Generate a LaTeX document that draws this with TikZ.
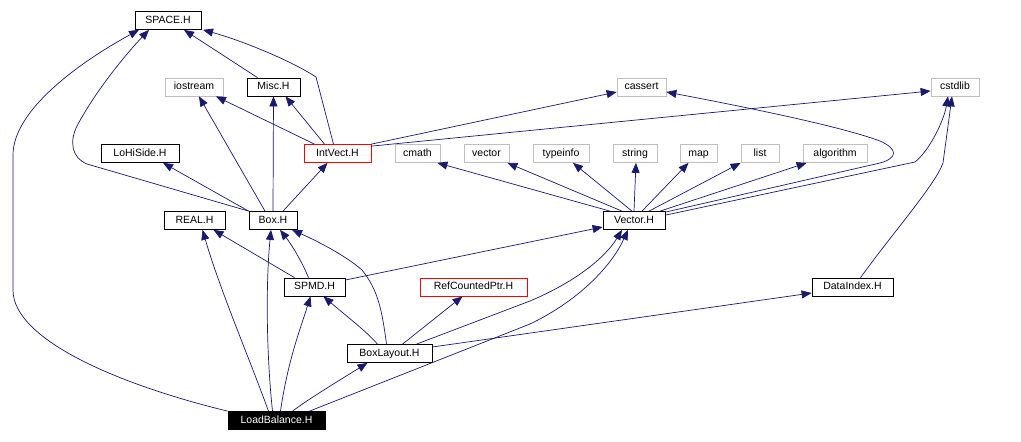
\documentclass[tikz,border=0pt]{standalone}
\usepackage{fontspec}
\setmainfont{Liberation Sans}
\usetikzlibrary{arrows.meta}

\definecolor{edgeblue}{HTML}{191970}
\definecolor{sysgray}{HTML}{BFBFBF}

\begin{document}
\begin{tikzpicture}[
    x=1pt, y=-1pt,
    font=\fontsize{10.5}{12}\selectfont,
    hdr/.style={draw, line width=0.75pt, minimum height=18pt, inner sep=0pt, fill=white,
        text height=7.6pt, text depth=2pt},
    sys/.style={hdr, draw=sysgray},
    trunc/.style={hdr, draw=red},
    root/.style={hdr, fill=black, text=white},
    dep/.style={-{Triangle[length=10pt, width=8pt]}, draw=edgeblue, line width=0.7pt}
]
\path[use as bounding box, fill=white] (0,0) rectangle (1021,442);

% Project headers
\node[hdr, minimum width=66pt] (space) at (168,20.5) {SPACE.H};
\node[hdr, minimum width=53pt] (misc) at (273.5,87) {Misc.H};
\node[hdr, minimum width=78pt] (lohiside) at (140,153.5) {LoHiSide.H};
\node[trunc, minimum width=67pt] (intvect) at (337.5,153.5) {IntVect.H};
\node[hdr, minimum width=61pt] (real) at (194.5,220.5) {REAL.H};
\node[hdr, minimum width=48pt] (box) at (273,220.5) {Box.H};
\node[hdr, minimum width=62pt] (vectorh) at (634,220.5) {Vector.H};
\node[hdr, minimum width=61pt] (spmd) at (314.5,287) {SPMD.H};
\node[trunc, minimum width=107pt] (refptr) at (473.5,287) {RefCountedPtr.H};
\node[hdr, minimum width=81pt] (dataindex) at (852.5,287) {DataIndex.H};
\node[hdr, minimum width=85pt] (boxlayout) at (389.5,353.5) {BoxLayout.H};
\node[root, minimum width=97pt] (loadbal) at (276.5,420.5) {LoadBalance.H};

% System headers
\node[sys, minimum width=58pt] (iostream) at (194,87) {iostream};
\node[sys, minimum width=49pt] (cassert) at (641.5,87) {cassert};
\node[sys, minimum width=48pt] (cstdlib) at (955,87) {cstdlib};
\node[sys, minimum width=45pt] (cmath) at (417.5,153.5) {cmath};
\node[sys, minimum width=45pt] (vectorstd) at (486.5,153.5) {vector};
\node[sys, minimum width=56pt] (typeinfo) at (561,153.5) {typeinfo};
\node[sys, minimum width=44pt] (string) at (635,153.5) {string};
\node[sys, minimum width=37pt] (map) at (698.5,153.5) {map};
\node[sys, minimum width=38pt] (list) at (760,153.5) {list};
\node[sys, minimum width=64pt] (algorithm) at (835,153.5) {algorithm};

% Includes into SPACE.H
\draw[dep] (loadbal.north west) .. controls (120,385) and (13,340) .. (13,290) -- (13,155)
    .. controls (13,110) and (80,62) .. ([xshift=-29pt]space.south);
\draw[dep] (box.north west) -- (87,164) .. controls (72,158) and (69,142) .. (77,126)
    .. controls (95,92) and (125,55) .. ([xshift=-19pt]space.south);
\draw[dep] ([xshift=-16pt]misc.north) -- ([xshift=16pt]space.south);
\draw[dep] ([xshift=-4pt]intvect.north) -- (316,77)
    .. controls (290,60) and (240,40) .. ([xshift=35pt]space.south);

% Box.H and IntVect.H
\draw[dep] ([xshift=-8pt]box.north) -- ([xshift=5pt]iostream.south);
\draw[dep] ([xshift=-23pt]intvect.north) -- ([xshift=22pt]iostream.south);
\draw[dep] (box.north) -- (misc.south);
\draw[dep] ([xshift=-13pt]intvect.north) -- ([xshift=12pt]misc.south);
\draw[dep] (box.north west) -- ([xshift=23pt]lohiside.south);
\draw[dep] ([xshift=10pt]box.north) -- ([xshift=-10pt]intvect.south);
\draw[dep] (intvect.north east) -- ([yshift=-5pt]cassert.west);
\draw[dep] ([yshift=-2pt]intvect.north east) -- ([yshift=-4pt]cstdlib.west);

% Vector.H
\draw[dep] ([xshift=-24pt]vectorh.north) -- ([xshift=-3pt]cmath.south east);
\draw[dep] ([xshift=-12pt]vectorh.north) -- ([xshift=-2pt]vectorstd.south east);
\draw[dep] ([xshift=-2pt]vectorh.north) -- ([xshift=12pt]typeinfo.south);
\draw[dep] (vectorh.north) -- ([xshift=1pt]string.south);
\draw[dep] ([xshift=8pt]vectorh.north) -- ([xshift=-10pt]map.south);
\draw[dep] ([xshift=15pt]vectorh.north) -- (list.south west);
\draw[dep] ([xshift=26pt]vectorh.north) -- ([xshift=4pt]algorithm.south west);
\draw[dep] ([yshift=-1pt]vectorh.north east) -- (880,163) .. controls (898,158) and (898,149) .. (880,141)
    .. controls (840,126) and (740,106) .. ([yshift=-5pt]cassert.east);
\draw[dep] ([yshift=-4pt]vectorh.north east) -- (915,162)
    .. controls (930,150) and (944,120) .. ([xshift=-7pt]cstdlib.south);
\draw[dep] ([xshift=8pt]dataindex.north) .. controls (895,230) and (935,185) .. (943,163)
    -- ([xshift=-3pt]cstdlib.south);

% SPMD.H and BoxLayout.H
\draw[dep] ([xshift=-20pt]spmd.north) -- ([xshift=19pt]real.south);
\draw[dep] ([xshift=-6pt]spmd.north) .. controls (302,262) and (292,245) .. ([xshift=7pt]box.south);
\draw[dep] ([yshift=7pt]spmd.east) -- ([yshift=-6.5pt]vectorh.west);
\draw[dep] ([xshift=-12pt]boxlayout.north) .. controls (365,330) and (345,315) .. ([xshift=9pt]spmd.south);
\draw[dep] ([xshift=-3pt]boxlayout.north) .. controls (382,310) and (378,290) .. (362,270)
    .. controls (345,255) and (315,240) .. ([xshift=19pt]box.south);
\draw[dep] ([xshift=13pt]boxlayout.north) -- ([xshift=-11pt]refptr.south);
\draw[dep] ([xshift=27pt]boxlayout.north) -- (530,301)
    .. controls (575,282) and (605,258) .. ([xshift=-12pt]vectorh.south);
\draw[dep] ([yshift=6.5pt]boxlayout.east) -- ([yshift=-6pt]dataindex.west);

% LoadBalance.H
\draw[dep] ([xshift=-8pt]loadbal.north) .. controls (250,360) and (220,290) .. ([xshift=8pt]real.south);
\draw[dep] ([xshift=-4pt]loadbal.north) .. controls (266,350) and (266,280) .. ([xshift=-2pt]box.south);
\draw[dep] ([xshift=4pt]loadbal.north) .. controls (288,360) and (300,330) .. ([xshift=-4pt]spmd.south);
\draw[dep] ([xshift=16pt]loadbal.north) .. controls (310,398) and (340,380) .. ([xshift=-22pt]boxlayout.south);
\draw[dep] ([xshift=33pt]loadbal.north) -- (530,324)
    .. controls (580,300) and (612,265) .. ([xshift=-6pt]vectorh.south);

\end{tikzpicture}
\end{document}
